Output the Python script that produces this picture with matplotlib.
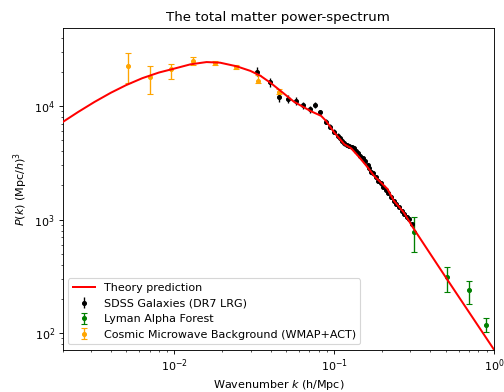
import matplotlib
matplotlib.use("Agg")
import matplotlib.pyplot as plt
import numpy as np

# Theory prediction
theory_k = [0.002, 0.0025, 0.00316, 0.004, 0.005, 0.0063, 0.008, 0.01, 0.0126, 0.0159,
            0.0193, 0.0245, 0.0299, 0.0345, 0.040, 0.0462, 0.0561, 0.0715, 0.0828, 0.0889,
            0.1, 0.1159, 0.1276, 0.1436, 0.1619, 0.177, 0.196, 0.2155, 0.236, 0.272,
            0.315, 0.5, 1.0]
theory_P = [7230, 8870, 10860, 13090, 15310, 17600, 19730, 21380, 23300, 24400,
            24100, 22400, 20400, 18500, 16000, 13600, 10900, 9000, 8200, 7400,
            5850, 4600, 4250, 3540, 2890, 2440, 2120, 1860, 1470, 1160,
            828, 309, 71.6]

# SDSS galaxies (DR7 LRG)
sdss_k = [0.0329, 0.0395, 0.0451, 0.0517, 0.0575, 0.064, 0.0705, 0.0762, 0.0819, 0.089,
          0.0944, 0.100, 0.105, 0.108, 0.112, 0.116, 0.120, 0.1245, 0.129, 0.1337,
          0.137, 0.140, 0.145, 0.1507, 0.156, 0.162, 0.166, 0.170, 0.176, 0.182,
          0.189, 0.196, 0.203, 0.210, 0.218, 0.226, 0.237, 0.245, 0.255, 0.264,
          0.274, 0.284, 0.294, 0.308]
sdss_P = [20100, 16200, 12100, 11500, 11100, 10200, 9360, 10200, 8800, 7280,
          6580, 5940, 5500, 5200, 4950, 4690, 4550, 4440, 4350, 4240,
          4050, 3830, 3650, 3460, 3250, 3020, 2820, 2630, 2560, 2390,
          2200, 2080, 1950, 1820, 1700, 1590, 1470, 1380, 1280, 1200,
          1120, 1060, 1010, 916]
sdss_err = [1800, 1400, 1200, 900, 800, 700, 600, 600, 500, 400,
            350, 300, 280, 260, 240, 220, 210, 200, 190, 180,
            170, 160, 150, 140, 130, 120, 115, 110, 100, 95,
            90, 85, 80, 75, 70, 65, 60, 55, 50, 48,
            45, 42, 40, 38]

# Lyman alpha forest
lya_k = [0.315, 0.508, 0.700, 0.891]
lya_P = [773, 310, 240, 119]
lya_lo = [515, 229, 181, 103]
lya_hi = [1050, 385, 290, 137]

# CMB (WMAP+ACT)
cmb_k = [0.00512, 0.00702, 0.00953, 0.0131, 0.0179, 0.0242, 0.0332, 0.0451]
cmb_P = [22500, 17900, 21000, 25100, 24000, 21900, 16700, 13400]
cmb_lo = [15800, 12800, 17200, 23000, 23000, 21000, 15800, 12800]
cmb_hi = [29100, 22500, 23300, 27200, 25100, 22800, 18700, 14000]

fig = plt.figure(figsize=(6.3, 4.9), dpi=80)
ax = fig.add_axes([0.1244, 0.1084, 0.8557, 0.8202])

ax.plot(theory_k, theory_P, color='red', lw=1.8, label='Theory prediction', zorder=3)
ax.errorbar(sdss_k, sdss_P, yerr=sdss_err, fmt='o', color='black', ms=3.5,
            elinewidth=1.2, label='SDSS Galaxies (DR7 LRG)', zorder=2)
lya_err = [np.array(lya_P) - np.array(lya_lo), np.array(lya_hi) - np.array(lya_P)]
ax.errorbar(lya_k, lya_P, yerr=lya_err, fmt='o', color='green', ms=3.5, capsize=3,
            elinewidth=1.2, label='Lyman Alpha Forest', zorder=2)
cmb_err = [np.array(cmb_P) - np.array(cmb_lo), np.array(cmb_hi) - np.array(cmb_P)]
ax.errorbar(cmb_k, cmb_P, yerr=cmb_err, fmt='o', color='orange', ms=3.5, capsize=3,
            elinewidth=1.2, label='Cosmic Microwave Background (WMAP+ACT)', zorder=2)

ax.set_xscale('log')
ax.set_yscale('log')
ax.set_xlim(0.002, 1.0)
ax.set_ylim(71.7, 48700)
ax.set_title('The total matter power-spectrum')
ax.set_xlabel('Wavenumber $k$ (h/Mpc)')
ax.set_ylabel('$P(k)$ (Mpc/$h$)$^3$')
ax.legend(loc='lower left')

fig.savefig('out.png', dpi=80)
